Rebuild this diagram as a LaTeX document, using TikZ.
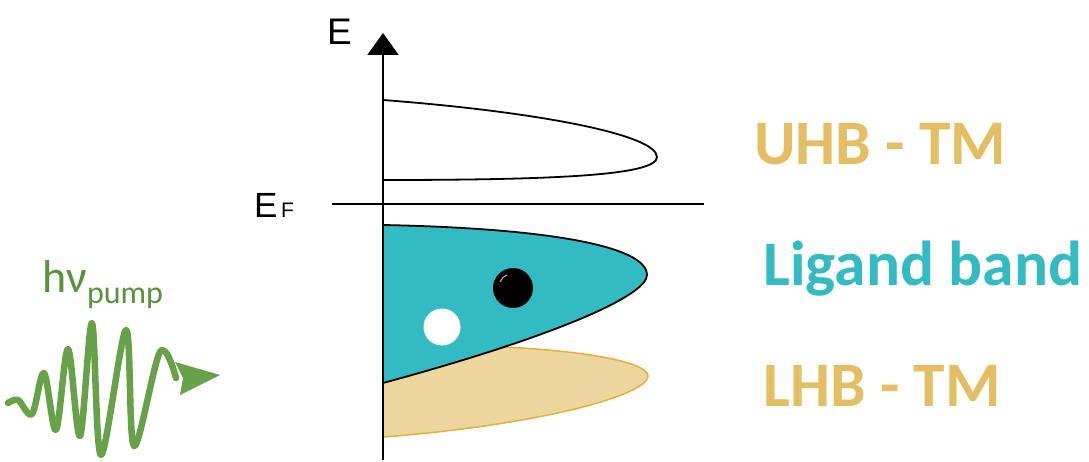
\documentclass[tikz,border=0pt]{standalone}
\usepackage{fontspec}
\setmainfont{Carlito}
\newfontfamily\arialf{Liberation Sans}
\usetikzlibrary{arrows.meta}
\definecolor{teal1}{RGB}{51,187,196}
\definecolor{tanfill}{RGB}{237,214,158}
\definecolor{tanline}{RGB}{226,176,60}
\definecolor{tanlabel}{RGB}{228,190,98}
\definecolor{wavegreen}{RGB}{104,162,72}
\definecolor{textgreen}{RGB}{88,146,58}
\tikzset{
  bandline/.style={line width=1.8pt, black},
  biglabel/.style={anchor=base west, inner sep=0pt, font=\bfseries\fontsize{63.5}{63.5}\selectfont},
}
\begin{document}
\begin{tikzpicture}[x=1pt,y=-1pt]
\useasboundingbox (0,0) rectangle (1089,462);
% LHB band
\fill[tanfill, draw=tanline, line width=1.5pt] (383,345) .. controls (560,343) and (648,360) .. (648,376) .. controls (648,395) and (540,425) .. (383,437) -- cycle;
% Ligand band
\fill[teal1] (383,225) .. controls (540,228) and (647,245) .. (647,275) .. controls (647,295) and (560,335) .. (383,383) -- cycle;
\draw[bandline] (383,225) .. controls (540,228) and (647,245) .. (647,275) .. controls (647,295) and (560,335) .. (383,383);
% UHB band
\draw[bandline] (383,100) .. controls (540,112) and (657,135) .. (657,157) .. controls (657,175) and (560,180) .. (383,180);
% axis
\coordinate (axbot) at (383,460);
\coordinate (axtop) at (383,33);
\draw[line width=2pt, -{Triangle[length=22pt,width=31pt]}] (axbot) -- (axtop);
% Fermi level
\coordinate (efl) at (332,204);
\coordinate (efr) at (704,204);
\draw[line width=1.8pt] (efl) -- (efr);
% electron and hole
\fill[black] (513,288) circle (20);
\draw[gray!70, line width=1.2pt] (500,282) arc (200:250:12);
\fill[white] (442,327) circle (18.5);
% labels
\node[anchor=base west, inner sep=0pt, font=\arialf\fontsize{37}{37}\selectfont] (elab) at (327,45) {E};
\node[anchor=base west, inner sep=0pt, font=\arialf\fontsize{35}{35}\selectfont] (eflab) at (254,218) {E};
\node[anchor=base west, inner sep=0pt, font=\arialf\fontsize{21}{21}\selectfont] (ffl) at (281,218) {F};
\node[biglabel, text=tanlabel] (uhb) at (754,165) {UHB - TM};
\node[biglabel, text=teal1] (lig) at (763,285) {Ligand band};
\node[biglabel, text=tanlabel] (lhb) at (763,406) {LHB - TM};
\node[anchor=base west, inner sep=0pt, text=textgreen, font=\fontsize{46}{46}\selectfont] (hv) at (42,292) {hν\raisebox{-11pt}{\fontsize{32}{32}\selectfont pump}};
% light wave
\draw[wavegreen, line width=6.5pt, line cap=round, line join=round] plot[smooth, tension=0.55] coordinates {(8,403) (18,400) (32,414) (44,373) (56,430) (68,349) (80,436) (92,323) (101,455) (126,330) (134,446) (160,352) (176,378)};
\fill[wavegreen] (175,362) -- (220,375) -- (180,395) -- (183,378) -- cycle;
\end{tikzpicture}
\end{document}
